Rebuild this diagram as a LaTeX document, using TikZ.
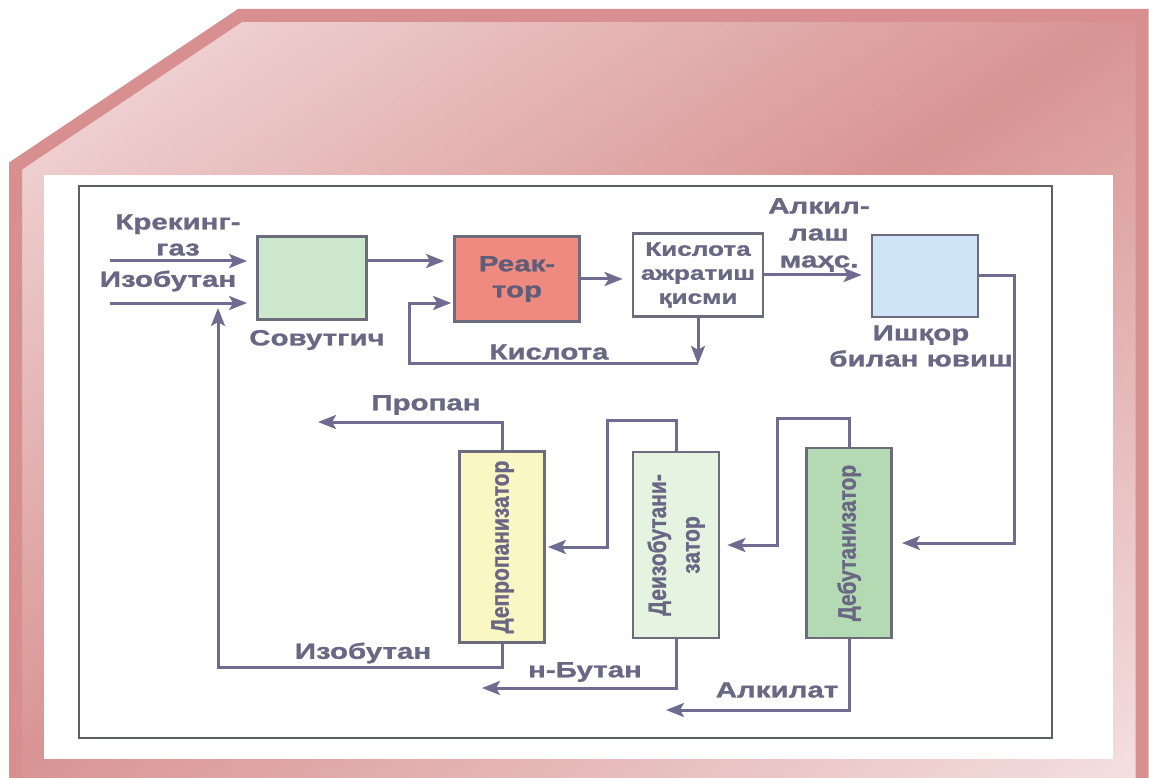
\documentclass[tikz,border=0pt]{standalone}
\usepackage{fontspec}
\setmainfont{Liberation Sans}[FakeStretch=1.34, BoldFeatures={FakeBold=1.2}]
\newfontfamily\colfont{Liberation Sans}[BoldFeatures={FakeBold=1.2}]
\usetikzlibrary{arrows.meta}

\definecolor{pinklight}{HTML}{F4E0E0}
\definecolor{pinkdark}{HTML}{D99494}
\definecolor{pinkedge}{HTML}{D78F8F}
\definecolor{framec}{HTML}{5E5E66}
\definecolor{flowc}{HTML}{6F6C92}
\definecolor{textc}{HTML}{6A6785}
\definecolor{boxline}{HTML}{6C6C7C}
\definecolor{coolgreen}{HTML}{CDE8CC}
\definecolor{reacred}{HTML}{EF8A80}
\definecolor{washblue}{HTML}{CFE5F6}
\definecolor{propyellow}{HTML}{FAF7C4}
\definecolor{isogreen}{HTML}{E5F4E0}
\definecolor{butgreen}{HTML}{B3DAB2}

\pgfdeclarehorizontalshading{pinkfold}{100bp}{color(0bp)=(pinklight); color(34bp)=(pinklight); color(50bp)=(pinkdark); color(66bp)=(pinklight); color(100bp)=(pinklight)}

% column names run upwards, glyphs a bit wider across the column
\newcommand{\collabel}[1]{\rotatebox{90}{\scalebox{1}[1.2]{\colfont\bfseries\fontsize{21}{28}\selectfont
  \begin{tabular}{@{}c@{}}#1\end{tabular}}}}

\begin{document}
\begin{tikzpicture}[x=1pt,y=-1pt,
  box/.style={draw=boxline, line width=2.8pt, inner sep=0pt},
  flow/.style={draw=flowc, line width=3pt, -{Stealth[length=18pt,width=14pt,inset=4pt]}},
  gap/.style={shorten >=9pt},
  lbl/.style={text=textc, font=\bfseries\fontsize{22}{26}\selectfont, align=center, inner sep=0pt}]
  \useasboundingbox (0,0) rectangle (1149,778);

  \begin{scope}
    \clip (0,0) rectangle (1149,778);
    \clip (240,15.5) -- (1142,15.5) -- (1142,800) -- (15.5,800) -- (15.5,166) -- cycle;
    \begin{scope}[transform canvas={shift={(574.5,389)}, rotate=-55.9}]
      \shade[shading=pinkfold] (-1000,-1000) rectangle (1000,1000);
    \end{scope}
  \end{scope}
  \begin{scope}
    \clip (0,0) rectangle (1149,778);
    \draw[pinkedge, line width=13pt]
      (240,15.5) -- (1142,15.5) -- (1142,800) -- (15.5,800) -- (15.5,166) -- cycle;
  \end{scope}
  \fill[white] (44,175) rectangle (1113,759);
  \draw[framec, line width=2.5pt] (79,186) rectangle (1052,738);

  \node[box, fill=coolgreen, minimum width=109pt, minimum height=83pt] (sov) at (312,278) {};
  \node[box, fill=reacred, minimum width=125pt, minimum height=85pt, lbl, text=textc!90!black] (reac) at (517,279) {Реак-\\тор};
  \node[box, fill=white, minimum width=130pt, minimum height=83pt, lbl,
        font=\bfseries\fontsize{19.5}{24}\selectfont] (sep) at (698,275) {Кислота\\ажратиш\\қисми};
  \node[box, fill=washblue, minimum width=106pt, minimum height=82pt] (wash) at (925,276) {};

  \node[box, fill=propyellow, minimum width=85pt, minimum height=191pt, text=textc] (deprop) at (502,547) {\collabel{Депропанизатор}};
  \node[box, fill=isogreen, minimum width=86pt, minimum height=186pt, text=textc] (deiso) at (676,545) {\collabel{Деизобутани-\\затор}};
  \node[box, fill=butgreen, minimum width=85pt, minimum height=190pt, text=textc] (debut) at (849,543) {\collabel{Дебутанизатор}};

  \node[lbl] (lgas) at (178,235) {Крекинг-\\газ};
  \node[lbl] (liso) at (168,281) {Изобутан};
  \node[lbl] (lsov) at (317,340) {Совутгич};
  \node[lbl] (lacid) at (549,352) {Кислота};
  \node[lbl, font=\bfseries\fontsize{22}{27}\selectfont] (lalk) at (819,235) {Алкил-\\лаш\\маҳс.};
  \node[lbl] (lwash) at (921,346) {Ишқор\\билан ювиш};
  \node[lbl] (lprop) at (426,405) {Пропан};
  \node[lbl] (lisob) at (363,653) {Изобутан};
  \node[lbl] (lnbut) at (585,672) {н-Бутан};
  \node[lbl] (lalkt) at (777,690) {Алкилат};

  \coordinate (gasin) at (110,261);
  \coordinate (isoin) at (110,303);
  \coordinate (isoret) at (218,308);
  \coordinate (propout) at (318,422);
  \coordinate (nbutout) at (482,688);
  \coordinate (alkout) at (666,710);

  \draw[flow,gap] (gasin) -- (gasin -| sov.west);
  \draw[flow,gap] (isoin) -- (isoin -| sov.west);
  \draw[flow,gap] (sov.east |- gasin) -- (reac.west |- gasin);
  \draw[flow,gap] (reac.east) -- (reac.east -| sep.west);
  \draw[flow,gap] (sep.east) -- (sep.east -| wash.west);
  \draw[flow] (sep.south) -- ++(0,46) coordinate (acid);
  \draw[flow,shorten >=2pt] (acid) -- ++(-289,0) |- ([yshift=-24pt]reac.west);

  \draw[flow,gap] (wash.east) -- ++(35,0) |- (debut.east);
  \draw[flow,shorten >=7pt] (debut.north) |- (777,418) |- (deiso.east);
  \draw[flow,shorten >=2pt] (deiso.north) |- (607,420) |- (deprop.east);
  \draw[flow] (deprop.north) |- (propout);
  \draw[flow] (deprop.south) |- (isoret |- 0,667) -- (isoret);
  \draw[flow] (deiso.south) |- (nbutout);
  \draw[flow] (debut.south) |- (alkout);
\end{tikzpicture}
\end{document}
